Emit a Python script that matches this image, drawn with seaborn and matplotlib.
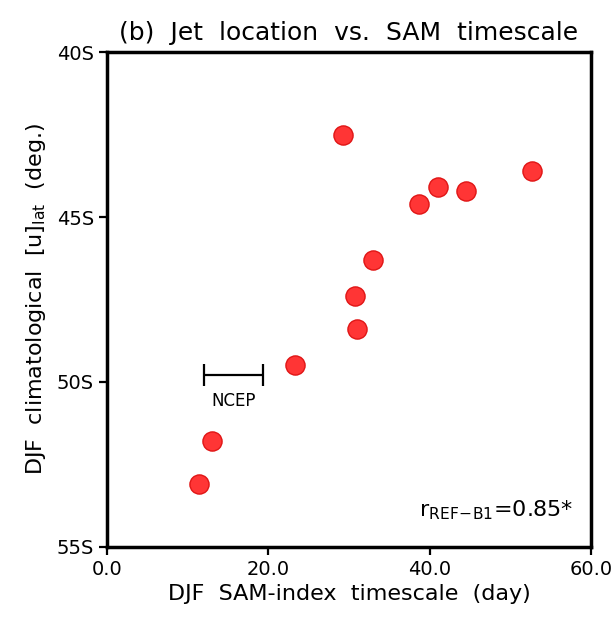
import matplotlib
matplotlib.use('Agg')
import matplotlib.pyplot as plt
import seaborn as sns
import pandas as pd

# SAM-index timescale (day) vs. climatological jet latitude (deg, negative = south)
sam_timescale = [29.2, 52.7, 44.5, 41.0, 38.7, 33.0, 30.7, 31.0, 23.3, 13.0, 11.4]
jet_latitude = [-42.5, -43.6, -44.2, -44.1, -44.6, -46.3, -47.4, -48.4, -49.5, -51.8, -53.1]

# NCEP range
ncep_range = [12.0, 19.3]
ncep_lat = -49.8

x_ticks = [0, 20, 40, 60]
x_labels = ['0.0', '20.0', '40.0', '60.0']
y_ticks = [-40, -45, -50, -55]
y_labels = ['40S', '45S', '50S', '55S']

df = pd.DataFrame({'timescale': sam_timescale, 'lat': jet_latitude})

sns.set_style('ticks')
plt.rcParams['font.family'] = ['DejaVu Sans']
plt.rcParams.update({'text.color': 'black', 'axes.labelcolor': 'black',
                     'xtick.color': 'black', 'ytick.color': 'black',
                     'axes.edgecolor': 'black'})

fig = plt.figure(figsize=(6.16, 6.22), dpi=100)
ax = fig.add_axes([0.174, 0.121, 0.785, 0.795])

sns.scatterplot(data=df, x='timescale', y='lat', ax=ax, s=190, alpha=1,
                color='#ff3535', edgecolor='#e01515', linewidth=1.0, zorder=3)

# NCEP error bar
ax.errorbar([sum(ncep_range) / 2], [ncep_lat],
            xerr=[[(ncep_range[1] - ncep_range[0]) / 2]],
            fmt='none', ecolor='black', elinewidth=1.6, capsize=8, capthick=1.6)
ax.text(sum(ncep_range) / 2, ncep_lat - 0.5, 'NCEP', ha='center', va='top', fontsize=12)

ax.text(0.965, 0.05, r'r$_{\mathrm{REF\!-\!B1}}$=0.85*', transform=ax.transAxes,
        ha='right', va='bottom', fontsize=16)

ax.set_xlim(0, 60)
ax.set_ylim(-55, -40)
ax.set_xticks(x_ticks)
ax.set_xticklabels(x_labels)
ax.set_yticks(y_ticks)
ax.set_yticklabels(y_labels)
ax.tick_params(labelsize=14, width=1.6, length=6, direction='out')

for sp in ax.spines.values():
    sp.set_visible(True)
    sp.set_linewidth(2.5)

ax.set_xlabel('DJF  SAM-index  timescale  (day)', fontsize=16, labelpad=4)
ax.set_ylabel(r'DJF  climatological  [u]$_{\mathrm{lat}}$  (deg.)', fontsize=16, labelpad=6)
ax.set_title('(b)  Jet  location  vs.  SAM  timescale', fontsize=18, pad=9)

fig.savefig('out.png', dpi=100)
